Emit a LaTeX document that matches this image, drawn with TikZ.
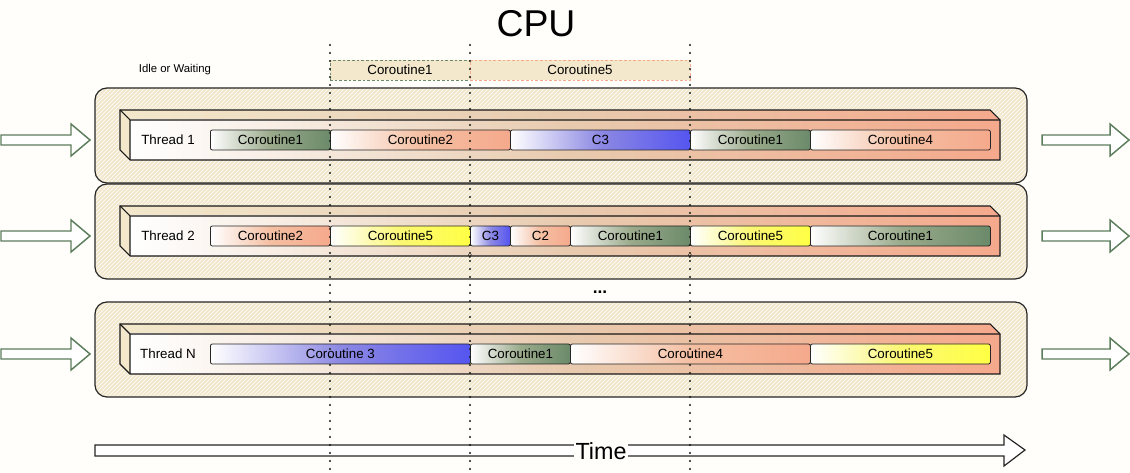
\documentclass[tikz,border=0pt]{standalone}
\usepackage{fontspec}
\setmainfont{Liberation Sans}
\usetikzlibrary{patterns}

\definecolor{bgpaper}{HTML}{FFFEFB}
\definecolor{cbeige}{HTML}{F3E8CC}
\definecolor{ctan}{HTML}{E8CBAF}
\definecolor{cgreen}{HTML}{6B8A69}
\definecolor{csalmon}{HTML}{F5A98C}
\definecolor{cblue}{HTML}{5555F0}
\definecolor{cyellow}{HTML}{FFFF44}
\definecolor{arrowgreen}{HTML}{5B7D5B}

\begin{document}
\begin{tikzpicture}[x=0.75pt, y=-0.75pt, font=\fontsize{10}{12}\selectfont,
  threadbox/.style={draw=black!85, line width=0.9pt, rounded corners=9pt,
    preaction={fill=cbeige}, pattern=north east lines, pattern color=white},
  barline/.style={draw=black!90, line width=0.8pt},
  seg/.style={draw=black!85, line width=0.6pt, rounded corners=1.5pt,
    inner sep=0pt, minimum height=15pt, anchor=west},
  topbox/.style={fill=cbeige, dash pattern=on 2pt off 1.5pt, line width=0.6pt,
    inner sep=0pt, minimum height=15pt},
  blockarrow/.style={draw=arrowgreen, line width=1.1pt, fill=white},
  timeline/.style={draw=black!80!cgreen, line width=1.7pt, line cap=round,
    dash pattern=on 0pt off 6pt}]

\fill[bgpaper] (0,0) rectangle (1130,473);
\useasboundingbox (0,0) rectangle (1130,473);

% header
\node[font=\fontsize{28}{30}\selectfont] (cpu) at (536,24) {CPU};
\node[font=\fontsize{8.5}{10}\selectfont] (idle) at (175,70) {Idle or Waiting};
\node[topbox, draw=cgreen, minimum width=105pt] (cpu-c1) at (400,70) {Coroutine1};
\node[topbox, draw=csalmon, minimum width=165pt] (cpu-c5) at (580,70) {Coroutine5};

% threads
\foreach \c/\th/\segs in {
    140/1/{210/330/Coroutine1/cgreen, 330/510/Coroutine2/csalmon, 510/690/C3/cblue,
           690/810/Coroutine1/cgreen, 810/990/Coroutine4/csalmon},
    236/2/{210/330/Coroutine2/csalmon, 330/470/Coroutine5/cyellow, 470/510/C3/cblue,
           510/570/C2/csalmon, 570/690/Coroutine1/cgreen, 690/810/Coroutine5/cyellow,
           810/990/Coroutine1/cgreen},
    354/N/{210/470/Coroutine 3/cblue, 470/570/Coroutine1/cgreen,
           570/810/Coroutine4/csalmon, 810/990/Coroutine5/cyellow}} {
  \draw[threadbox] (95,\c-52) rectangle (1027,\c+43);
  % bar faces
  \shade[left color=cbeige, right color=csalmon, middle color=ctan]
    (120,\c-30) -- (990,\c-30) -- (1000,\c-20) -- (130,\c-20) -- cycle;
  \fill[cbeige] (120,\c-30) -- (130,\c-20) -- (130,\c+20) -- (120,\c+10) -- cycle;
  \shade[left color=white, right color=csalmon, middle color=ctan]
    (130,\c-20) rectangle (1000,\c+20);
  \draw[barline] (120,\c-30) -- (990,\c-30) -- (1000,\c-20) -- (1000,\c+20)
    -- (130,\c+20) -- (120,\c+10) -- cycle;
  \draw[barline] (120,\c-30) -- (130,\c-20) -- (1000,\c-20) (130,\c-20) -- (130,\c+20);
  \node (thread-\th) at (168,\c) {Thread \th};
  \foreach \a/\b/\t/\col [count=\i] in \segs {
    \pgfmathsetmacro\w{(\b-\a)*0.75}
    \node[seg, left color=white, right color=\col, middle color=\col!65!cbeige,
      minimum width=\w pt] (seg-\th-\i) at (\a,\c) {\t};
  }
  % side arrows
  \draw[blockarrow] (1,\c-5) -- (71,\c-5) -- (71,\c-16) -- (90,\c) -- (71,\c+16)
    -- (71,\c+5) -- (1,\c+5) -- cycle;
  \draw[blockarrow] (1042,\c-5) -- (1110,\c-5) -- (1110,\c-16) -- (1129,\c)
    -- (1110,\c+16) -- (1110,\c+5) -- (1042,\c+5) -- cycle;
}

\node[font=\fontsize{5.5}{6}\selectfont, inner sep=0pt] (v-a) at (470,257) {v};
\node[font=\fontsize{5.5}{6}\selectfont, inner sep=0pt] (v-b) at (690,257) {v};
\node[font=\bfseries\fontsize{13}{13}\selectfont, anchor=base] (more) at (600,294) {...};

% time axis
\draw[black!85, line width=0.9pt, fill=white] (95,445) -- (1004,445) -- (1004,435)
  -- (1025,450) -- (1004,466) -- (1004,456) -- (95,456) -- cycle;
\node[font=\fontsize{17.5}{18}\selectfont, fill=bgpaper, inner xsep=1pt, inner ysep=0pt] (time) at (601,451) {Time};

% cpu slices
\foreach \x in {330,470,690}
  \draw[timeline] (\x,45) -- (\x,473);
\end{tikzpicture}
\end{document}
